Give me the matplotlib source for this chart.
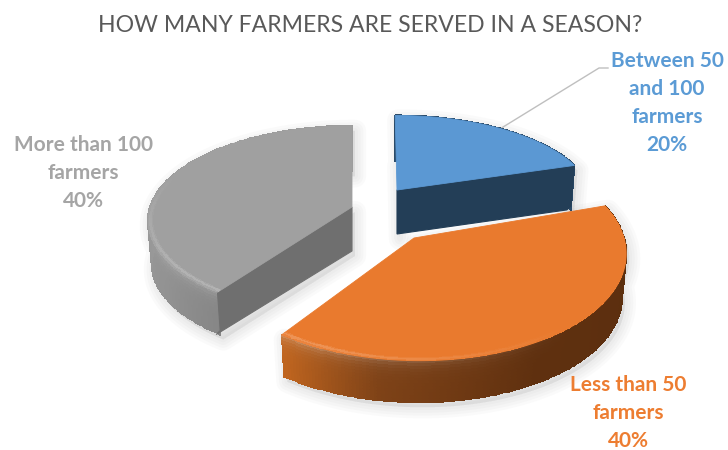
import numpy as np
import matplotlib
matplotlib.use("Agg")
import matplotlib.pyplot as plt
from matplotlib.colors import to_rgb
from matplotlib.patches import Polygon

title = "HOW MANY FARMERS ARE SERVED IN A SEASON?"
categories = ["Between 50\nand 100\nfarmers", "Less than 50\nfarmers", "More than 100\nfarmers"]
shares = [20, 40, 40]

face_colors = ["#5b98d3", "#e97a2e", "#a0a0a0"]
cut_colors = ["#233e57", None, "#6f6f6f"]
label_colors = ["#5b9bd5", "#ed7d31", "#a5a5a5"]

# projection of each exploded slice: apex x, apex y, x radius, y radius, perspective, shear
slice_geom = [
    (397, 190, 193, 82, 0.10, -2),
    (414, 238, 210, 108, 0.12, -5),
    (352, 207, 202, 93, 0.145, 0),
]
depth = 44
bottom_scale = 0.98

# wall shading by angle (degrees clockwise from 12 o'clock)
wall_stops = [
    ([0, 72], ["#2a4a68", "#2a4a68"]),
    ([70, 150, 190, 216], ["#5a2e0e", "#5f300f", "#7e4217", "#c0651f"]),
    ([216, 240, 285, 360], ["#868686", "#929292", "#9c9c9c", "#9c9c9c"]),
]
highlights = [0.0, 0.3, 0.2]
# the rim highlight ramps up between these two angles
highlight_ramp = [(0, 1), (140, 205), (290, 235)]


def project(geom, theta, r=1.0):
    cx, cy, a, b, p, s = geom
    t = np.radians(theta)
    u = r * np.sin(t)
    v = r * np.cos(t)
    w = 1 + p * v
    return cx + (a * u + s * v) / w, cy - b * v / w


def lower(geom, x, y):
    # same outline at the bottom of the slice, slightly smaller
    return geom[0] + (x - geom[0]) * bottom_scale, geom[1] + (y - geom[1]) * bottom_scale + depth


def wall_color(stops, theta):
    angles, cols = stops
    rgb = np.array([to_rgb(c) for c in cols])
    return np.stack([np.interp(theta, angles, rgb[:, i]) for i in range(3)], axis=-1)


def rim_amount(ramp, theta):
    a, b = ramp
    return np.clip((theta - a) / (b - a), 0, 1)


def outline(geom, t0, t1, n=120):
    th = np.linspace(t0, t1, n)
    x, y = project(geom, th)
    return np.r_[geom[0], x], np.r_[geom[1], y]


def draw_shadow(ax, geom, t0, t1):
    x, y = outline(geom, t0, t1)
    lx, ly = lower(geom, x, y)
    pts = np.r_[np.c_[x, y], np.c_[lx, ly][::-1]]
    for lw in [16, 12, 8, 4]:
        ax.add_patch(Polygon(pts + [3, 5], closed=True, fc="#808080", ec="#808080",
                             lw=lw, alpha=0.035, joinstyle="round", zorder=1))


def draw_slice(ax, geom, t0, t1, face, cut, stops, hi, ramp, z):
    th = np.linspace(t0, t1, 160)
    x, y = project(geom, th)
    lx, ly = lower(geom, x, y)

    # curved outer wall, lighter just under the rim
    rows = np.linspace(0, 1, 15)
    X = np.outer(1 - rows, x) + np.outer(rows, lx)
    Y = np.outer(1 - rows, y) + np.outer(rows, ly)
    mid = (th[:-1] + th[1:]) / 2
    base = wall_color(stops, mid)
    tmid = (rows[:-1] + rows[1:]) / 2
    fade = np.exp(-tmid / 0.14)[:, None, None]
    amount = hi * rim_amount(ramp, mid)[None, :, None]
    C = base[None, :, :] * (1 - fade * amount) + fade * amount
    ax.pcolormesh(X, Y, np.clip(C, 0, 1), shading="flat", edgecolors="face",
                  linewidth=0.3, zorder=z)

    # flat cut side that faces the viewer
    if cut is not None:
        edge = t1 if t1 < 100 else t0
        ex, ey = project(geom, edge)
        bx, by = lower(geom, ex, ey)
        ax_, ay_ = lower(geom, geom[0], geom[1])
        pts = [(geom[0], geom[1]), (ex, ey), (bx, by - 4), (bx - 4, by), (ax_, ay_)]
        ax.add_patch(Polygon(pts, closed=True, fc=cut, ec=cut, lw=0.8, zorder=z + 1))

    # top face
    ox, oy = outline(geom, t0, t1)
    ax.add_patch(Polygon(np.c_[ox, oy], closed=True, fc=face, ec=face, lw=0.6, zorder=z + 2))

    # soft bevel along the front of the rim
    if hi > 0:
        radii = np.linspace(0.975, 1.0, 5)
        BX = np.zeros((len(radii), len(th)))
        BY = np.zeros((len(radii), len(th)))
        for i, r in enumerate(radii):
            BX[i], BY[i] = project(geom, th, r)
        f = np.array(to_rgb(face))
        front = rim_amount(ramp, mid)[None, :, None]
        band = ((radii[:-1] + radii[1:]) / 2 - 0.975) / 0.025
        band = np.sin(band * np.pi)[:, None, None]
        mix = band * front * 0.2
        ax.pcolormesh(BX, BY, f * (1 - mix) + mix, shading="flat", zorder=z + 3)


fig = plt.figure(figsize=(7.28, 4.5), dpi=100)
ax = fig.add_axes([0, 0, 1, 1])
ax.set_xlim(0, 728)
ax.set_ylim(450, 0)
ax.axis("off")

ends = np.cumsum(shares) * 3.6
starts = np.r_[0, ends[:-1]]

for i in [2, 0, 1]:
    draw_shadow(ax, slice_geom[i], starts[i], ends[i])

for z, i in zip([2, 6, 10], [2, 0, 1]):
    draw_slice(ax, slice_geom[i], starts[i], ends[i], face_colors[i], cut_colors[i],
               wall_stops[i], highlights[i], highlight_ramp[i], z)

# leader line for the small slice, with a short horizontal elbow
lx, ly = project(slice_geom[0], (starts[0] + ends[0]) / 2)
ax.plot([lx, 599, 608], [ly, 68, 68], color="#bfbfbf", lw=1, zorder=1.5)

ax.text(370, 25, title, ha="center", va="center", fontsize=16.6, color="#595959",
        family="Lato")

label_pos = [(667, 103), (628, 413), (83, 173)]
for name, share, col, (tx, ty) in zip(categories, shares, label_colors, label_pos):
    ax.text(tx, ty, f"{name}\n{share}%", ha="center", va="center", ma="center",
            fontsize=15, fontweight="bold", color=col, family="Lato", linespacing=1.5,
            zorder=20)

fig.savefig("out.png", dpi=100)
